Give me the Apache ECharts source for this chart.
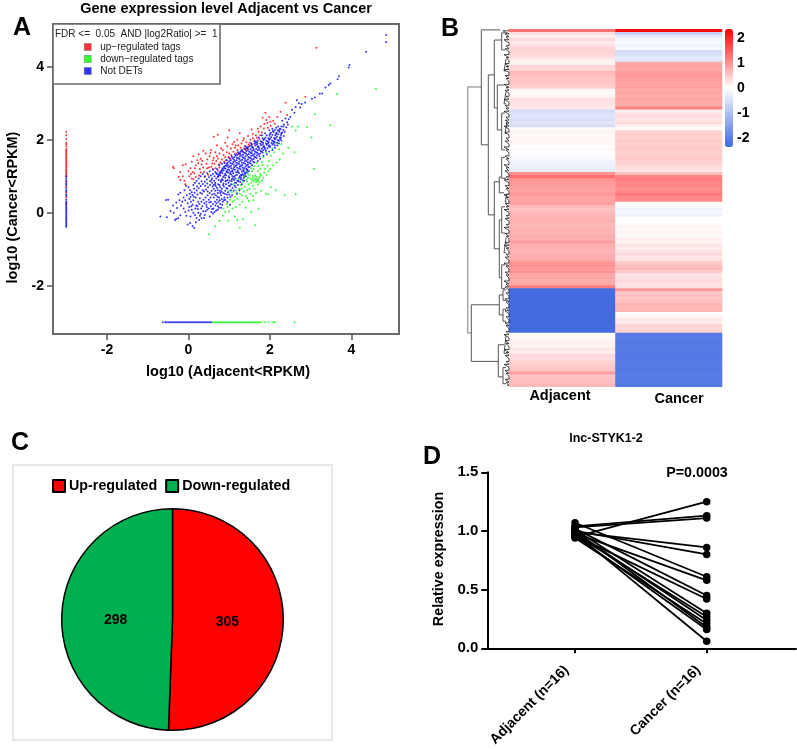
<!DOCTYPE html>
<html>
<head>
<meta charset="utf-8">
<title>Adjacent vs Cancer</title>
<script src="https://cdn.jsdelivr.net/npm/echarts@6/dist/echarts.min.js"></script>
<style>
  html, body { margin: 0; padding: 0; background: #fff; }
  #chart { width: 797px; height: 749px; }
</style>
</head>
<body>
<div id="chart"></div>
<script>
// panel A, one [log10 adjacent, log10 cancer] per dot
const upNames = "up\u2212regulated tags";
const downNames = "down\u2212regulated tags";
const notNames = "Not DETs";
const upPoints = [
  [3.14,4.52],[2.87,3.18],[2.38,3.01],[1.89,2.74],[2.26,2.77],[2.42,2.68],[1.91,2.54],[2.01,2.49],[1.77,2.36],[1.85,2.31],
  [1.95,2.33],[2.08,2.52],[1.72,2.22],[1.8,2.2],[1.65,2.12],[1.58,2.05],[1.62,1.98],[1.5,1.92],[1.48,1.86],[1.38,1.82],
  [1.42,1.93],[1.28,1.78],[1.2,1.72],[1.32,1.68],[1.1,1.67],[1.18,1.62],[1.05,1.58],[0.98,1.53],[1.02,1.48],[0.92,1.44],
  [0.88,1.4],[0.82,1.46],[0.78,1.38],[0.74,1.32],[0.68,1.42],[0.62,1.5],[0.58,1.35],[0.52,1.55],[0.46,1.46],[0.42,1.62],
  [0.36,1.7],[0.55,1.72],[0.66,1.66],[0.7,1.85],[0.8,1.76],[0.9,1.92],[0.96,2.06],[1.0,2.26],[0.72,2.14],[0.62,2.08],
  [0.95,1.82],[1.08,1.88],[1.2,2.0],[1.26,2.18],[1.46,2.1],[1.55,2.28],[1.34,1.98],[0.3,1.48],[0.25,1.6],[0.32,1.32],
  [0.22,1.44],[0.18,1.3],[0.12,1.55],[0.08,1.4],[0.05,1.22],[0.0,1.14],[0.14,1.08],[0.28,1.2],[0.38,1.12],[0.48,1.04],
  [0.4,0.98],[-0.38,1.26],[-0.36,1.22],[-0.07,1.33],[-0.14,1.3],[-0.2,1.12],[-0.14,1.0],[-0.2,0.9],[-0.1,0.88],[-0.08,0.78],
  [-0.24,0.98],[0.02,1.0],[0.12,0.92],[0.1,1.12],[0.5,1.24],[0.6,1.2],[0.66,1.22],[0.72,1.16],[0.76,1.24],[1.14,1.78],
  [1.24,1.6],[1.44,1.76],[1.56,1.88],[1.64,1.92],[1.74,2.02],[2.02,2.38],[2.12,2.44],[1.98,2.62],[2.18,2.62],[1.82,2.6],
  [0.86,1.58],[0.94,1.66],[0.84,1.72],[0.6,1.44],[0.54,1.64],[0.44,1.34],[0.34,1.42],[0.24,1.36],
  [0.7,1.55],[0.76,1.62],[1.04,1.76],[1.12,1.94],[1.16,1.84],[1.3,1.9],[1.36,2.04],[1.4,1.74],[1.52,2.0],[1.58,2.16],
  [1.68,2.06],[1.7,2.3],[1.86,2.44],[1.94,2.46],[1.76,2.12],[1.36,1.76],[1.22,1.84],[1.0,1.62],[0.9,1.52],[0.72,1.48],
  [0.64,1.34],[0.56,1.26],[0.46,1.22],[0.36,1.24],[0.26,1.02],[0.18,0.98],[0.08,0.94],[0.06,1.06],[0.16,1.22],[0.3,1.1]
];
const downPoints = [
  [4.6,3.39],[3.65,3.25],[3.1,2.7],[3.48,2.4],[3.08,1.2],[3.02,2.06],[2.91,2.34],[2.69,2.36],[2.63,2.25],[2.63,0.51],
  [2.36,0.48],[2.54,2.36],[2.6,1.66],[2.45,1.78],[2.32,1.62],[2.28,1.88],[2.22,1.74],[2.14,1.92],[2.1,1.66],[2.24,1.46],
  [2.02,1.56],[2.06,1.76],[1.98,1.42],[1.9,1.66],[1.94,1.28],[1.84,1.52],[1.88,1.2],[1.8,1.38],[1.76,1.06],[1.72,1.28],
  [1.84,0.96],[1.8,0.88],[1.72,0.94],[1.68,0.92],[1.64,1.02],[1.6,0.86],[1.56,1.14],[1.52,0.94],[1.48,0.78],[1.44,0.62],
  [1.7,0.78],[1.62,0.66],[1.66,0.54],[1.78,0.6],[1.9,0.52],[1.96,0.5],[2.02,0.7],[2.14,0.62],[1.52,0.52],[1.4,0.46],
  [1.34,0.84],[1.38,1.0],[1.42,1.12],[1.3,0.66],[1.26,0.52],[1.2,0.38],[1.14,0.44],[1.08,0.3],[1.02,0.36],[0.94,0.24],
  [1.26,0.22],[1.4,0.14],[1.54,0.02],[1.72,0.12],[0.86,0.12],[0.9,0.02],[1.0,0.04],[0.84,-0.08],[1.14,-0.1],[1.2,-0.2],
  [1.34,-0.18],[1.26,-0.4],[1.64,-0.34],[0.98,-0.22],[0.66,-0.37],[0.5,-0.59],[0.76,-0.22],[1.08,0.12],[1.48,0.32],[1.6,0.34],
  [1.32,0.3],[1.16,0.62],[1.1,0.78],[1.22,0.92],[1.54,1.22],[1.62,1.28],[1.58,0.74],[1.66,0.84],[1.74,0.98],[1.56,0.9],
  [1.64,0.92],[1.58,1.0],[1.7,1.14],[1.76,1.2],[1.86,1.1],[1.92,1.04],[2.0,1.2],[2.08,1.3],[2.16,1.38],[1.44,0.86],
  [1.5,0.66],[1.38,0.72],[1.28,0.76],[1.18,0.56],[0.96,0.16],[1.06,0.56],[1.46,1.06],[1.42,0.92],
  [1.6,0.94],[1.66,0.98],[1.7,0.88],[1.54,0.82],[1.46,0.96],[1.5,1.02],[1.74,0.84],[1.78,1.02],[1.36,0.58],[1.32,0.48],
  [1.24,0.66],[1.12,0.34],[1.0,0.6],[1.16,0.16],[1.44,0.4],[1.58,0.46],[1.82,1.3],[1.96,1.14],[1.68,1.36],[1.6,1.2]
];
const notPoints = [
  [4.85,4.87],[4.85,4.68],[4.36,4.41],[3.95,4.05],[3.93,3.98],[3.69,3.74],[3.66,3.66],[3.48,3.54],[3.44,3.5],[3.36,3.43],
  [3.28,3.27],[3.22,3.26],[3.1,3.16],[3.03,3.12],[2.86,3.02],[2.78,2.98],[2.71,3.0],[2.66,3.08],[2.63,2.9],[2.74,2.88],
  [2.6,2.74],[2.54,2.82],[2.5,2.62],[2.46,2.56],[2.42,2.48],[2.34,2.42],[2.38,2.58],[2.3,2.52],[2.28,2.36],[2.24,2.3],
  [-0.69,-0.1],[-0.53,-0.12],[-0.55,0.35],[-0.5,0.36],[-0.44,0.05],[-0.36,0.0],[-0.33,-0.2],[-0.3,-0.17],[-0.25,-0.15],[-0.2,-0.07],
  [-0.28,0.13],[-0.15,0.3],[-0.25,0.5],[-0.2,0.55],[-0.1,0.62],[-0.18,0.2],[-0.12,0.12],[-0.08,0.02],[-0.05,-0.08],[-0.02,-0.32],
  [0.04,-0.28],[0.1,-0.36],[0.14,-0.42],[0.18,-0.26],[0.26,-0.2],[0.32,-0.15],[0.3,-0.03],[0.24,0.0],[0.36,0.04],[0.4,-0.06],
  [-0.04,0.48],[0.02,0.38],[0.06,0.3],[0.1,0.22],[0.0,0.7],[0.04,0.62],[0.02,0.16],[0.08,0.08],[0.12,0.0],[0.16,-0.06],
  // diagonal runs from low counts
  [0.17,0.12],[0.22,0.18],[0.27,0.24],[0.32,0.3],[0.37,0.36],[0.42,0.42],[0.47,0.48],[0.52,0.54],[0.57,0.6],[0.62,0.66],[0.67,0.73],
  [0.05,0.43],[0.1,0.49],[0.15,0.55],[0.2,0.61],[0.25,0.67],[0.3,0.73],[0.35,0.79],[0.4,0.85],[0.45,0.91],[0.5,0.97],[0.55,1.02],[0.6,1.06],
  [0.5,0.12],[0.55,0.18],[0.6,0.24],[0.65,0.3],[0.7,0.36],[0.75,0.42],[0.8,0.48],[0.85,0.54],[0.9,0.6],[0.95,0.66],
  [0.33,0.52],[0.38,0.58],[0.43,0.64],[0.48,0.7],[0.53,0.76],[0.58,0.82],[0.63,0.88],[0.68,0.94],[0.73,1.0],
  [0.62,0.42],[0.67,0.48],[0.72,0.54],[0.77,0.6],[0.82,0.66],[0.87,0.72],[0.92,0.78],
  [0.2,0.88],[0.25,0.94],[0.3,1.0],[0.35,1.06],[0.12,0.76],[0.16,0.82],
  [0.28,0.4],[0.34,0.18],[0.44,0.22],[0.46,0.08],[0.56,0.02],[0.6,-0.02],[0.68,0.06],[0.72,0.18],[0.78,0.24],[0.84,0.3],
  [0.9,0.36],[0.96,0.42],[0.66,0.6],[0.7,0.68],[0.76,0.76],[0.8,0.84],[0.84,0.9],[0.9,0.96],[0.44,0.3],[0.5,0.36],
  [0.54,0.42],[0.58,0.5],[0.12,0.34],[0.18,0.42],[0.22,0.5],[0.24,0.3],[0.08,0.56],[0.14,0.66],[0.26,0.8],[0.32,0.86],
  [0.4,1.0],[0.46,1.08],[0.52,1.14],[0.58,0.94],[0.64,1.0],[0.7,1.06],[0.76,1.1],[0.82,1.16],[0.88,1.22],[0.94,1.28],
  [1.0,0.5],[1.04,0.62],[1.08,0.68],[1.02,0.74],[0.98,0.82],[1.06,0.86],[1.12,0.9],[0.96,0.9],[1.0,0.96],[1.08,1.0],
  // dense core, bottom to top
  [0.72,0.98],[0.78,1.02],[0.85,0.98],[0.92,1.03],[0.99,1.0],[1.05,1.05],[1.12,0.99],[1.19,1.04],[1.26,1.0],[1.33,1.06],
  [0.76,1.06],[0.83,1.09],[0.9,1.07],[0.97,1.1],[1.03,1.12],[1.1,1.08],[1.17,1.11],[1.24,1.09],[1.31,1.13],[1.38,1.1],
  [0.8,1.14],[0.86,1.16],[0.93,1.14],[1.0,1.17],[1.07,1.15],[1.14,1.18],[1.21,1.16],[1.28,1.19],[1.35,1.17],[1.42,1.2],
  [0.84,1.22],[0.91,1.21],[0.98,1.24],[1.05,1.22],[1.12,1.25],[1.19,1.23],[1.26,1.26],[1.33,1.24],[1.4,1.27],[1.47,1.25],
  [0.9,1.29],[0.97,1.31],[1.04,1.29],[1.11,1.32],[1.18,1.3],[1.25,1.33],[1.32,1.31],[1.39,1.34],[1.46,1.32],[1.53,1.35],
  [0.96,1.37],[1.03,1.36],[1.1,1.39],[1.17,1.37],[1.24,1.4],[1.31,1.38],[1.38,1.41],[1.45,1.39],[1.52,1.42],[1.59,1.4],
  [1.04,1.44],[1.11,1.46],[1.18,1.44],[1.25,1.47],[1.32,1.45],[1.39,1.48],[1.46,1.46],[1.53,1.49],[1.6,1.47],[1.67,1.5],
  [1.12,1.52],[1.19,1.51],[1.26,1.54],[1.33,1.52],[1.4,1.55],[1.47,1.53],[1.54,1.56],[1.61,1.54],[1.68,1.57],[1.74,1.55],
  [1.2,1.59],[1.27,1.61],[1.34,1.59],[1.41,1.62],[1.48,1.6],[1.55,1.63],[1.62,1.61],[1.69,1.64],[1.76,1.62],[1.82,1.65],
  [1.28,1.67],[1.35,1.66],[1.42,1.69],[1.49,1.67],[1.56,1.7],[1.63,1.68],[1.7,1.71],[1.77,1.69],[1.84,1.72],[1.9,1.7],
  [1.38,1.74],[1.45,1.76],[1.52,1.74],[1.59,1.77],[1.66,1.75],[1.73,1.78],[1.8,1.76],[1.87,1.79],[1.94,1.77],[2.0,1.8],
  [1.5,1.82],[1.57,1.81],[1.64,1.84],[1.71,1.82],[1.78,1.85],[1.85,1.83],[1.92,1.86],[1.99,1.84],[2.06,1.87],[2.12,1.85],
  [1.62,1.89],[1.69,1.91],[1.76,1.89],[1.83,1.92],[1.9,1.9],[1.97,1.93],[2.04,1.91],[2.11,1.94],[2.18,1.92],[1.7,1.97],
  [1.77,1.96],[1.84,1.99],[1.91,1.97],[1.98,2.0],[2.05,1.98],[2.12,2.01],[2.19,1.99],[2.25,2.02],[1.82,2.04],[1.89,2.06],
  [1.96,2.04],[2.03,2.07],[2.1,2.05],[2.17,2.08],[2.24,2.06],[1.92,2.12],[1.99,2.11],[2.06,2.14],[2.13,2.12],[2.2,2.15],
  [2.27,2.13],[2.02,2.19],[2.09,2.21],[2.16,2.19],[2.23,2.22],[2.3,2.2],[2.12,2.27],[2.19,2.26],[2.26,2.29],[2.33,2.27],
  // loose dots round the core
  [0.66,0.82],[0.74,0.9],[0.82,0.92],[1.14,0.82],[1.2,0.88],[1.28,0.92],[1.36,0.96],[1.16,0.7],[0.7,1.2],[0.76,1.3],
  [0.66,1.12],[0.6,1.18],[0.82,1.34],[0.88,1.36],[0.94,1.44],[1.0,1.5],[1.06,1.54],[1.14,1.6],[1.22,1.66],[1.3,1.72],
  [1.4,1.82],[1.46,1.8],[1.54,1.9],[1.62,1.96],[1.72,2.06],[1.8,2.12],[1.88,2.18],[1.98,2.26],[2.06,2.3],[1.44,1.18],
  [1.5,1.26],[1.56,1.3],[1.62,1.38],[1.7,1.42],[1.76,1.48],[1.84,1.56],[1.92,1.6],[1.98,1.68],[2.06,1.72],[2.12,1.78],
  [2.18,1.84],[2.22,1.9],[2.28,1.98],[2.34,2.1],[1.06,0.92],[1.24,0.96],[1.3,1.02],[1.48,1.14],[0.78,0.7],[0.86,0.8],
  [0.92,0.88],[0.72,0.62],[0.78,0.54],[1.02,0.22],[0.94,0.5],[0.88,0.42],[0.82,0.38],[0.74,0.3],[0.66,0.2],[0.58,0.1],
  // uneven fill between the runs and inside the core
  [0.74,1.03],[0.88,1.02],[1.02,1.07],[1.15,1.02],[1.29,1.04],[0.79,1.1],[0.94,1.12],[1.08,1.13],[1.21,1.12],[1.35,1.14],
  [0.83,1.19],[0.96,1.18],[1.1,1.2],[1.24,1.21],[1.37,1.22],[0.87,1.26],[1.01,1.27],[1.15,1.28],[1.29,1.29],[1.43,1.3],
  [0.93,1.34],[1.07,1.34],[1.21,1.35],[1.35,1.36],[1.49,1.37],[1.0,1.41],[1.14,1.42],[1.28,1.43],[1.42,1.43],[1.56,1.45],
  [1.08,1.49],[1.22,1.49],[1.36,1.5],[1.5,1.51],[1.64,1.52],[1.16,1.56],[1.3,1.57],[1.44,1.58],[1.58,1.58],[1.72,1.6],
  [1.24,1.64],[1.38,1.64],[1.52,1.65],[1.66,1.66],[1.8,1.68],[1.32,1.7],[1.46,1.72],[1.6,1.72],[1.74,1.73],[1.88,1.75],
  [1.42,1.78],[1.56,1.79],[1.7,1.8],[1.84,1.8],[1.97,1.82],[1.54,1.85],[1.68,1.87],[1.82,1.88],[1.95,1.89],[2.09,1.9],
  [1.66,1.94],[1.8,1.94],[1.94,1.95],[2.08,1.96],[2.22,1.97],[1.86,2.02],[2.0,2.03],[2.14,2.04],[2.27,2.06],[2.0,2.16],
  [2.15,2.16],[2.28,2.18],[2.07,2.24],[2.22,2.25],[2.36,2.22],[2.4,2.34],[2.33,2.36],[2.2,2.36],[2.44,2.42],[2.15,2.33],
  [-0.02,0.26],[0.03,0.52],[0.07,0.18],[0.13,0.44],[0.19,0.2],[0.21,0.72],[0.23,0.1],[0.29,0.55],[0.31,0.12],[0.35,0.62],
  [0.39,0.26],[0.41,0.74],[0.45,0.16],[0.47,0.58],[0.51,0.28],[0.53,0.86],[0.55,0.3],[0.59,0.72],[0.61,0.12],[0.63,0.52],
  [0.65,0.78],[0.69,0.26],[0.71,0.44],[0.73,0.78],[0.75,0.14],[0.77,0.34],[0.79,0.88],[0.81,0.58],[0.83,0.22],[0.85,0.76],
  [0.87,0.34],[0.89,0.52],[0.91,0.86],[0.93,0.68],[0.95,0.3],[0.97,0.56],[0.99,0.74],[1.01,0.88],[1.03,0.44],[1.05,0.78],
  [1.07,0.48],[1.09,0.94],[1.11,0.6],[1.13,0.74],[1.15,0.94],[1.17,0.82],[1.19,0.52],[1.21,0.76],[1.23,0.86],[1.25,0.62],
  [1.27,0.84],[1.29,0.96],[1.31,0.78],[1.33,0.9],[1.35,1.02],[1.37,0.88],[1.39,1.06],[1.41,1.0],[1.43,1.1],[1.45,1.16],
  [-0.06,0.74],[-0.12,0.42],[-0.22,0.34],[-0.3,0.28],[-0.38,0.2],[-0.08,0.34],[0.0,0.06],[0.05,-0.1],[0.2,-0.14],[0.28,-0.08],
  [0.42,0.04],[0.52,-0.1],[0.38,-0.14],[0.64,0.02],[0.72,0.08],[0.8,0.14],[0.46,0.8],[0.56,0.9],[0.62,0.76],[0.68,1.08]
];
// dots on the x = -3 line (cancer only) and on the y = -3 line (adjacent only)
const missingAdjacentUp = [2.22,2.12,2.02,1.92,1.88,1.82,1.75,1.71,1.67,1.63,1.59,1.55,1.51,1.47,1.43,1.39,1.35,1.31,1.27,1.23,1.19,1.15,1.11,1.07,1.03,0.99,0.84,0.72,0.55,0.42,0.24];
const missingAdjacentNot = [1.0,0.93,0.88,0.8,0.76,0.68,0.62,0.58,0.5,0.46,0.36,0.3,0.27,0.22,0.18,0.14,0.1,0.06,0.02,-0.02,-0.06,-0.1,-0.14,-0.18,-0.22,-0.26,-0.3,-0.34,-0.38];
const missingCancerNot = [-0.63,-0.57,-0.53,-0.49,-0.45,-0.41,-0.37,-0.33,-0.29,-0.25,-0.21,-0.17,-0.13,-0.09,-0.05,-0.01,0.03,0.07,0.11,0.15,0.19,0.23,0.27,0.31,0.35,0.39,0.43,0.47,0.51,0.55];
const missingCancerDown = [0.58,0.62,0.66,0.7,0.74,0.78,0.82,0.86,0.9,0.94,0.98,1.02,1.06,1.1,1.14,1.18,1.22,1.26,1.3,1.34,1.38,1.42,1.46,1.5,1.54,1.58,1.62,1.66,1.7,1.74,1.78,1.88,1.96,2.08,2.12,2.6];

const xTicksA = [-2, 0, 2, 4];
const yTicksA = [-2, 0, 2, 4];

// panel B - one value per heatmap row, top to bottom
const heatColumns = ["Adjacent", "Cancer"];
const adjacentRows = [
  1.3,0.3,0.15,0.35,0.2,0.3,0.4,0.4,0.35,0.3,0.15,0.1,0.35,0.35,0.65,0.6,0.55,0.55,0.5,0.45,
  0.1,0.05,0.1,0.3,0.3,0.25,0.2,-0.55,-0.45,-0.4,-0.5,-0.4,-0.55,0.05,0.1,0.05,0.1,0.05,0.08,0.0,
  0.05,0.0,-0.05,-0.1,-0.15,-0.2,-0.25,-0.3,1.0,1.35,1.0,0.95,0.9,0.9,0.85,0.95,0.85,0.85,0.9,0.65,
  0.55,0.65,0.68,0.7,0.72,0.65,0.68,0.72,0.68,0.75,0.72,0.9,0.75,0.72,0.68,0.72,0.75,0.8,1.0,1.05,
  0.95,1.0,0.8,0.85,0.78,0.8,1.2,-2.35,-2.35,-2.35,-2.33,-2.35,-2.35,-2.33,-2.35,-2.35,-2.35,-2.33,-2.35,-2.35,-2.33,-2.35,
  0.05,0.05,0.1,0.15,0.1,0.25,0.15,0.35,0.3,0.4,0.45,0.5,0.55,0.9,0.55,0.6,0.6,0.65
];
const cancerRows = [
  2.3,-0.7,-0.3,-0.1,-0.1,-0.15,-0.1,-0.55,-0.5,-0.35,-0.4,0.8,0.85,0.8,0.9,0.95,0.88,0.9,0.85,0.88,
  0.8,0.85,0.75,0.85,0.8,0.8,1.15,0.15,0.28,0.32,0.22,0.35,0.15,0.05,0.42,0.48,0.42,0.5,0.45,0.5,
  0.48,0.42,0.48,0.5,0.42,0.4,0.3,0.28,0.6,1.15,1.2,1.1,1.15,1.05,1.1,1.25,1.1,1.1,0.0,-0.05,
  -0.2,-0.1,-0.2,0.0,0.0,0.05,0.1,0.05,0.1,0.05,0.18,0.1,0.25,0.18,0.25,0.35,0.22,0.28,0.5,0.6,
  0.65,0.5,0.22,0.28,0.35,0.28,0.28,0.95,0.52,0.6,0.55,0.6,0.7,0.65,0.7,-0.05,0.1,0.25,0.18,0.42,0.35,0.42,
  -2.1,-2.08,-2.1,-2.12,-2.1,-2.08,-2.1,-2.12,-2.1,-2.08,-2.1,-2.1,-2.12,-2.08,-2.1,-2.1,-2.08,-2.1
];
const colorbarTicks = [-2, -1, 0, 1, 2];

// dendrogram brackets: [height, top row, bottom row, height of top child, height of bottom child]
const rootBracket = [[41.3, 19.4, 101.9, 27.7, 37.7]];
const treeBrackets = [
  [27.7,0.2,38.8,9,20.7],[20.7,15.3,62.3,14.7,14.7],[14.7,3.6,26.4,7.3,11.7],[7.3,1.2,6.9,4,4],[11.7,18.7,33.8,5,7.3],
  [7.3,28.1,40.5,4,4],[14.7,51.2,73.7,9.7,9.7],[9.7,49.6,54.9,7.3,5],[9.7,64,83.4,7.3,7.3],[7.3,59.6,68.4,4,4],
  [7.3,79.1,87,4,4],[37.7,92.5,111.5,9.7,10.7],[9.7,89.2,95.9,6,6],[10.7,105.9,116.7,5,6],[6,87.5,91,3,3],
  [6,94,98,3,3],[5,103,108.8,3,3],[6,113.6,119,3,3],[7.3,43,50,4,3],[5,10,14,3,3],[5,21,25,3,3],[5,70,75,3,3],[4,31,35,2,2],[4,55,58,2,2]
];
// height of each leaf stub, row by row
const leafHeights = [
  6,4,3,5,2,3,4,2,5,3,2,4,3,5,2,4,3,2,5,3,
  4,2,3,5,2,4,3,5,2,3,4,3,5,2,4,2,3,4,2,5,
  3,2,4,3,2,5,3,4,2,3,5,2,4,3,2,5,3,2,4,3,
  5,2,3,4,2,3,5,2,4,3,2,4,5,3,2,3,4,2,5,3,
  2,4,3,2,5,3,4,2,3,2,4,3,2,3,4,2,3,2,4,3,
  2,3,5,2,4,3,2,5,3,4,2,3,5,2,4,3,2,4,3,2
];

// panel C
const pieNames = ["Up-regulated", "Down-regulated"];
const pieValues = [305, 298];

// panel D
const pairedGroups = ["Adjacent (n=16)", "Cancer (n=16)"];
const pairedAdjacent = [0.95,1.04,1.03,0.99,1.0,1.07,0.98,1.02,0.96,1.01,0.97,0.99,0.94,1.0,0.96,0.98];
const pairedCancer = [1.25,1.13,1.11,0.86,0.8,0.61,0.58,0.45,0.42,0.3,0.27,0.24,0.21,0.18,0.16,0.06];

const font = "Liberation Sans";
const boldText = (size) => ({ fontFamily: font, fontWeight: "bold", fontSize: size, color: "#000" });

function bracketPath(list) {
  const path = [];
  list.forEach((b) => {
    path.push([b[3], b[1]], [b[0], b[1]], [b[0], b[2]], [b[4], b[2]], [NaN, NaN]);
  });
  return path;
}

const leafPath = [];
leafHeights.forEach((h, i) => {
  leafPath.push([0, i + 0.5], [h, i + 0.5], [h * 0.6, i + 1]);
});

const heatData = [];
adjacentRows.forEach((v, i) => heatData.push([0, i, v]));
cancerRows.forEach((v, i) => heatData.push([1, i, v]));

const pairedSeries = pairedAdjacent.map((a, i) => ({
  type: "line",
  xAxisIndex: 4,
  yAxisIndex: 4,
  data: [[0, a], [1, pairedCancer[i]]],
  symbol: "circle",
  symbolSize: 7.5,
  lineStyle: { color: "#000", width: 1.8 },
  itemStyle: { color: "#000" },
  silent: true
}));

const scatterBase = { type: "scatter", xAxisIndex: 0, yAxisIndex: 0, symbol: "circle", symbolSize: 2, silent: true };

const option = {
  animation: false,
  backgroundColor: "#fff",
  textStyle: { fontFamily: font },
  title: [
    { text: "Gene expression level Adjacent vs Cancer", left: 226, top: 1, textAlign: "center", textStyle: boldText(14.5), padding: 0 },
    { text: "lnc-STYK1-2", left: 606, top: 432, textAlign: "center", textStyle: boldText(12.5), padding: 0 },
    { text: "P=0.0003", left: 697, top: 466, textAlign: "center", textStyle: boldText(14.3), padding: 0 },
    { text: "Adjacent", left: 560, top: 388, textAlign: "center", textStyle: boldText(14.5), padding: 0 },
    { text: "Cancer", left: 679, top: 391, textAlign: "center", textStyle: boldText(14.5), padding: 0 },
    { text: "A", left: 13, top: 16, textStyle: boldText(25), padding: 0 },
    { text: "B", left: 441, top: 17, textStyle: boldText(25), padding: 0 },
    { text: "C", left: 11, top: 431, textStyle: boldText(25), padding: 0 },
    { text: "D", left: 423, top: 445, textStyle: boldText(25), padding: 0 }
  ],
  legend: [
    {
      left: 84, top: 42, orient: "vertical", itemWidth: 7, itemHeight: 7, itemGap: 2, padding: 0, z: 6,
      icon: "rect", selectedMode: false,
      data: [upNames, downNames, notNames],
      textStyle: { fontFamily: font, fontSize: 10, color: "#222", padding: [0, 0, 0, 4] },
      itemStyle: { borderColor: "#555", borderWidth: 0.5 }
    },
    {
      left: 52, top: 479, itemWidth: 12, itemHeight: 12, itemGap: 8, padding: 0,
      icon: "rect", selectedMode: false,
      data: pieNames,
      textStyle: Object.assign(boldText(14.3), { padding: [0, 0, 0, -1] })
    }
  ],
  grid: [
    { left: 53, top: 24, width: 346, height: 310, show: true, borderColor: "#6b6b6b", borderWidth: 2, backgroundColor: "transparent" },
    { left: 509, top: 29.3, width: 213, height: 357.4 },
    { left: 465, top: 29.3, width: 44, height: 357.4 },
    { left: 725.3, top: 29, width: 7.7, height: 118 },
    { left: 487.3, top: 472.3, width: 308.7, height: 178 }
  ],
  xAxis: [
    {
      gridIndex: 0, type: "value", min: -3.325, max: 5.166, position: "bottom",
      axisLine: { show: false, onZero: false }, splitLine: { show: false },
      axisTick: { show: true, customValues: xTicksA, length: 6, lineStyle: { color: "#555", width: 1.5 } },
      axisLabel: { customValues: xTicksA, margin: 9, ...boldText(14) }
    },
    { gridIndex: 1, type: "category", data: heatColumns, show: false },
    { gridIndex: 2, type: "value", min: 0, max: 44, inverse: true, show: false },
    { gridIndex: 3, type: "value", min: 0, max: 1, show: false },
    {
      gridIndex: 4, type: "value", min: -0.666, max: 1.678,
      splitLine: { show: false },
      axisLine: { onZero: false, lineStyle: { color: "#000", width: 2 } },
      axisTick: { customValues: [0, 1], length: 5, lineStyle: { color: "#000", width: 2 } },
      axisLabel: {
        customValues: [0, 1], rotate: 45, margin: 21, verticalAlign: "bottom", padding: [0, 5, 0, 0], ...boldText(14),
        formatter: (v) => pairedGroups[v]
      }
    }
  ],
  yAxis: [
    {
      gridIndex: 0, type: "value", min: -3.32, max: 5.17, position: "left",
      axisLine: { show: false, onZero: false }, splitLine: { show: false },
      axisTick: { show: true, customValues: yTicksA, length: 6, lineStyle: { color: "#555", width: 1.5 } },
      axisLabel: { customValues: yTicksA, margin: 9, padding: [2, 0, 0, 0], ...boldText(14) }
    },
    { gridIndex: 1, type: "category", inverse: true, data: adjacentRows.map((v, i) => i), show: false },
    { gridIndex: 2, type: "value", min: 0, max: 120, inverse: true, show: false },
    {
      gridIndex: 3, type: "value", min: -2.36, max: 2.36, position: "right",
      axisLine: { show: false }, axisTick: { show: false }, splitLine: { show: false },
      axisLabel: { customValues: colorbarTicks, margin: 4, padding: [2, 0, 0, 0], ...boldText(14) }
    },
    {
      gridIndex: 4, type: "value", min: 0, max: 1.5, interval: 0.5,
      splitLine: { show: false },
      axisLine: { show: true, onZero: false, lineStyle: { color: "#000", width: 2 } },
      axisTick: { show: true, length: 6, lineStyle: { color: "#000", width: 2 } },
      axisLabel: { margin: 9, padding: [3, 0, 0, 0], ...boldText(15), formatter: (v) => v.toFixed(1) }
    }
  ],
  visualMap: {
    type: "continuous", seriesIndex: 5, min: -2.36, max: 2.36,
    left: 725, top: 29, itemWidth: 8, itemHeight: 118, padding: 0,
    calculable: false, hoverLink: false, text: null,
    inRange: { color: ["#4169e1", "#ffffff", "#ff0000"] }
  },
  graphic: [
    { type: "rect", z: 3, shape: { x: 53, y: 24, width: 167, height: 60 }, style: { fill: "#fff", stroke: "#6b6b6b", lineWidth: 1.6 } },
    { type: "text", z: 5, x: 55, y: 29, style: { text: "FDR <=  0.05  AND |log2Ratio| >=  1", fontFamily: font, fontSize: 10, fill: "#222" } },
    { type: "rect", z: 0, shape: { x: 13, y: 465, width: 319, height: 275 }, style: { fill: "none", stroke: "#e8e8e8", lineWidth: 2 } },
    { type: "text", x: 13, y: 207.5, rotation: Math.PI / 2, style: { text: "log10 (Cancer<RPKM)", align: "center", verticalAlign: "middle", fontFamily: font, fontWeight: "bold", fontSize: 14.5, fill: "#000" } },
    { type: "text", x: 228, y: 372, style: { text: "log10 (Adjacent<RPKM)", align: "center", verticalAlign: "middle", fontFamily: font, fontWeight: "bold", fontSize: 14.5, fill: "#000" } },
    { type: "text", x: 439, y: 559, rotation: Math.PI / 2, style: { text: "Relative expression", align: "center", verticalAlign: "middle", fontFamily: font, fontWeight: "bold", fontSize: 14.3, fill: "#000" } }
  ],
  series: [
    {
      ...scatterBase, name: upNames, itemStyle: { color: "#ff0000" },
      data: upPoints.concat(missingAdjacentUp.map((y) => [-3, y]))
    },
    {
      ...scatterBase, name: downNames, itemStyle: { color: "#00ff00" },
      data: downPoints.concat(missingCancerDown.map((x) => [x, -3]))
    },
    {
      ...scatterBase, name: notNames, itemStyle: { color: "#0000ff" },
      data: notPoints.concat(missingAdjacentNot.map((y) => [-3, y]), missingCancerNot.map((x) => [x, -3]))
    },
    {
      type: "line", xAxisIndex: 2, yAxisIndex: 2, data: bracketPath(rootBracket), showSymbol: false, symbol: "none",
      connectNulls: false, silent: true, lineStyle: { color: "#a6a6a6", width: 1.5 }
    },
    {
      type: "line", xAxisIndex: 2, yAxisIndex: 2, data: bracketPath(treeBrackets), showSymbol: false, symbol: "none",
      connectNulls: false, silent: true, lineStyle: { color: "#555", width: 1 }
    },
    {
      type: "heatmap", xAxisIndex: 1, yAxisIndex: 1, data: heatData, silent: true
    },
    {
      type: "line", xAxisIndex: 2, yAxisIndex: 2, data: leafPath, showSymbol: false, symbol: "none",
      silent: true, lineStyle: { color: "#222", width: 0.8 }
    },
    {
      type: "pie", center: [172.5, 619.5], radius: 110.8, startAngle: 90, silent: true,
      data: pieNames.map((n, i) => ({ name: n, value: pieValues[i] })),
      color: ["#ff0000", "#00b050"],
      itemStyle: { borderColor: "#000", borderWidth: 1.5 },
      label: { show: true, position: "inside", formatter: "{c}", ...boldText(14) },
      labelLine: { show: false },
      labelLayout: (params) => ({ dx: params.dataIndex === 0 ? -3.5 : 1.5, dy: 2 })
    },
    ...pairedSeries
  ]
};

const myChart = echarts.init(document.getElementById("chart"), null, { renderer: "canvas" });
myChart.setOption(option);
</script>
</body>
</html>
